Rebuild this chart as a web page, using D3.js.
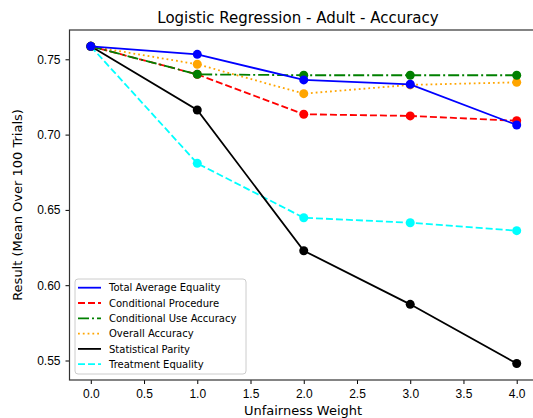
<!DOCTYPE html>
<html>
<head>
<meta charset="utf-8">
<script src="https://cdn.jsdelivr.net/npm/d3@7"></script>
<style>
  body { margin: 0; background: #fff; }
  svg { font-family: 'DejaVu Sans', sans-serif; }
  .tick text { font-size: 12px; fill: #000; }
  .tick line { stroke: #000; }
</style>
</head>
<body>
<div id="chart"></div>
<script>
// Data
const weights = [0, 1, 2, 3, 4];
const xTicks = [0, 0.5, 1, 1.5, 2, 2.5, 3, 3.5, 4];
const yTicks = [0.55, 0.60, 0.65, 0.70, 0.75];

const totalAverageEquality = [0.7586, 0.7533, 0.7363, 0.7334, 0.7064];
const conditionalProcedure = [0.7586, 0.7400, 0.7135, 0.7124, 0.7092];
const conditionalUseAccuracy = [0.7586, 0.7400, 0.7394, 0.7394, 0.7394];
const overallAccuracy = [0.7586, 0.7467, 0.7272, 0.7330, 0.7347];
const statisticalParity = [0.7586, 0.7163, 0.6229, 0.5873, 0.5480];
const treatmentEquality = [0.7586, 0.6809, 0.6448, 0.6415, 0.6362];

const series = [
  { name: 'Total Average Equality', values: totalAverageEquality, color: '#0000ff', dash: null },
  { name: 'Conditional Procedure', values: conditionalProcedure, color: '#ff0000', dash: '7,3' },
  { name: 'Conditional Use Accuracy', values: conditionalUseAccuracy, color: '#008000', dash: '11,3,2,3' },
  { name: 'Overall Accuracy', values: overallAccuracy, color: '#ffa500', dash: '1.8,3' },
  { name: 'Statistical Parity', values: statisticalParity, color: '#000000', dash: null },
  { name: 'Treatment Equality', values: treatmentEquality, color: '#00ffff', dash: '7,3' }
];
// draw order (blue ends up on top)
const drawOrder = [5, 4, 3, 1, 2, 0];

const W = 533, H = 418;
const m = { left: 69.5, top: 30, right: 538, bottom: 380 };

const svg = d3.select('#chart').append('svg')
  .attr('width', W).attr('height', H);

const x = d3.scaleLinear().domain([-0.2, 4.2]).range([m.left, m.right]);
const y = d3.scaleLinear().domain([0.55, 0.75]).range([360.5, 59.3]);

// Lines + markers
const line = d3.line()
  .x((d, i) => x(weights[i]))
  .y(d => y(d));

drawOrder.forEach(k => {
  const s = series[k];
  svg.append('path')
    .datum(s.values)
    .attr('d', line)
    .attr('fill', 'none')
    .attr('stroke', s.color)
    .attr('stroke-width', 1.8)
    .attr('stroke-dasharray', s.dash);
  svg.selectAll(null)
    .data(s.values)
    .enter().append('circle')
    .attr('cx', (d, i) => x(weights[i]))
    .attr('cy', d => y(d))
    .attr('r', 4.5)
    .attr('fill', s.color);
});

// Axes
svg.append('g')
  .attr('transform', `translate(0,${m.bottom})`)
  .call(d3.axisBottom(x).tickValues(xTicks).tickFormat(d3.format('.1f')).tickSize(4).tickPadding(5))
  .call(g => g.select('.domain').remove());

svg.append('g')
  .attr('transform', `translate(${m.left},0)`)
  .call(d3.axisLeft(y).tickValues(yTicks).tickFormat(d3.format('.2f')).tickSize(4).tickPadding(5))
  .call(g => g.select('.domain').remove());

// Frame
svg.append('rect')
  .attr('x', m.left).attr('y', m.top)
  .attr('width', m.right - m.left).attr('height', m.bottom - m.top)
  .attr('fill', 'none').attr('stroke', '#333').attr('stroke-width', 1.2);

// Title and labels
svg.append('text')
  .attr('x', 298).attr('y', 23)
  .attr('text-anchor', 'middle')
  .attr('font-size', 15)
  .text('Logistic Regression - Adult - Accuracy');

svg.append('text')
  .attr('x', 303).attr('y', 415)
  .attr('text-anchor', 'middle')
  .attr('font-size', 13)
  .text('Unfairness Weight');

svg.append('text')
  .attr('transform', `translate(22,${(m.top + m.bottom) / 2}) rotate(-90)`)
  .attr('text-anchor', 'middle')
  .attr('font-size', 13)
  .text('Result (Mean Over 100 Trials)');

// Legend
const lg = svg.append('g').attr('transform', 'translate(75,279)');
lg.append('rect')
  .attr('width', 171).attr('height', 95).attr('rx', 3)
  .attr('fill', '#fff').attr('fill-opacity', 0.8)
  .attr('stroke', '#ccc');

series.forEach((s, i) => {
  const cy = 8.7 + i * 15.3;
  lg.append('line')
    .attr('x1', 3).attr('x2', 26)
    .attr('y1', cy).attr('y2', cy)
    .attr('stroke', s.color)
    .attr('stroke-width', 1.8)
    .attr('stroke-dasharray', s.dash);
  lg.append('text')
    .attr('x', 34).attr('y', cy + 3.7)
    .attr('font-size', 10)
    .text(s.name);
});
</script>
</body>
</html>
